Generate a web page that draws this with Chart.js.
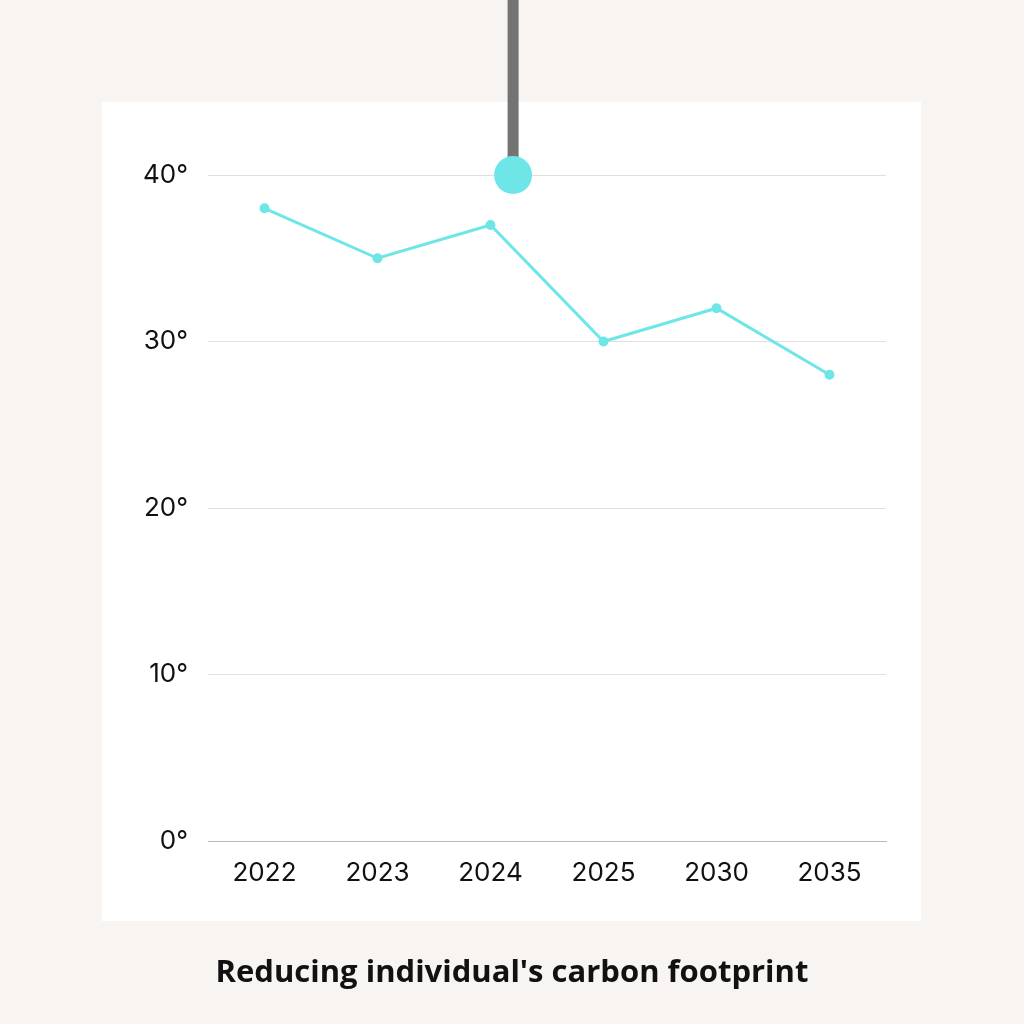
<!DOCTYPE html>
<html>
<head>
<meta charset="utf-8">
<script src="https://cdn.jsdelivr.net/npm/chart.js@4.4.1/dist/chart.umd.min.js"></script>
<style>
  html, body { margin: 0; padding: 0; background: #f8f4f1; }
  #wrap { position: relative; width: 1024px; height: 1024px; }
  #title {
    position: absolute; left: 0; top: 948px; width: 1024px; margin: 0;
    text-align: center; font-family: "Open Sans", sans-serif; font-weight: 700;
    font-size: 31px; color: #111; line-height: 44px;
  }
</style>
</head>
<body>
<div id="wrap">
  <canvas id="tempChart" width="1024" height="1024"></canvas>
  <h1 id="title">Reducing individual's carbon footprint</h1>
</div>
<script>
// data
const years = ['2022', '2023', '2024', '2025', '2030', '2035'];
const footprint = [38, 35, 37, 30, 32, 28];
const yTicks = [0, 10, 20, 30, 40];

const lineColor = '#6ee6e8';

// background + white panel + thermometer pin
const decor = {
  id: 'decor',
  beforeDraw(chart) {
    const c = chart.ctx;
    c.save();
    c.fillStyle = '#f8f4f1';
    c.fillRect(0, 0, chart.width, chart.height);
    c.fillStyle = '#ffffff';
    c.fillRect(102, 102, 819, 819);
    c.restore();
  },
  afterDraw(chart) {
    const c = chart.ctx;
    const x = chart.scales.x, y = chart.scales.y;
    const px = x.getPixelForValue(2) + (x.getPixelForValue(3) - x.getPixelForValue(2)) * 0.2;
    const py = y.getPixelForValue(40);
    c.save();
    c.fillStyle = '#737373';
    c.fillRect(px - 5.5, 0, 11, py);
    c.fillStyle = lineColor;
    c.beginPath();
    c.arc(px, py, 19, 0, Math.PI * 2);
    c.fill();
    c.restore();
  }
};

Chart.defaults.font.family = 'Inter, "Noto Sans", sans-serif';
Chart.defaults.color = '#111';

new Chart(document.getElementById('tempChart'), {
  type: 'line',
  data: {
    labels: years,
    datasets: [{
      data: footprint,
      borderColor: lineColor,
      backgroundColor: lineColor,
      borderWidth: 3,
      pointRadius: 3.5,
      tension: 0
    }]
  },
  options: {
    responsive: false,
    animation: false,
    layout: { padding: { left: 120, right: 138, top: 175, bottom: 123 } },
    plugins: { legend: { display: false }, tooltip: { enabled: false } },
    scales: {
      x: {
        offset: true,
        grid: { display: false },
        border: { color: '#b9b9b9', width: 1 },
        ticks: { font: { size: 26 }, padding: 9 },
        afterFit(s) { s.height = 60; }
      },
      y: {
        min: 0, max: 40,
        afterBuildTicks(s) { s.ticks = yTicks.map(v => ({ value: v })); },
        grid: { color: '#e0e0e0', drawTicks: false },
        border: { display: false },
        ticks: { font: { size: 26 }, padding: 20, callback: v => v + '°' },
        afterFit(s) { s.width = 88; }
      }
    }
  },
  plugins: [decor]
});
</script>
</body>
</html>
